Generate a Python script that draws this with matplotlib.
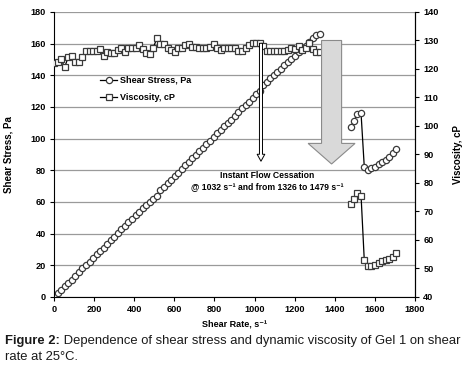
import numpy as np
import matplotlib
matplotlib.use('Agg')
import matplotlib.pyplot as plt
from matplotlib.patches import Polygon
from matplotlib.lines import Line2D

plt.rcParams['font.family'] = ['Liberation Sans', 'DejaVu Sans']

# shear rate, s-1 (first run, up to the cessation at 1326)
rate1 = [0, 18, 35, 53, 71, 88, 106, 124, 141, 159, 177, 194, 212, 230, 247, 265,
         283, 300, 318, 336, 354, 371, 389, 407, 424, 442, 460, 477, 495, 513, 530,
         548, 566, 583, 601, 619, 636, 654, 672, 689, 707, 725, 742, 760, 778, 796,
         813, 831, 849, 866, 884, 902, 919, 937, 955, 972, 990, 1008, 1025, 1043,
         1061, 1078, 1096, 1114, 1131, 1149, 1167, 1184, 1202, 1220, 1237, 1255,
         1273, 1290, 1308, 1326]
stress1 = [0.5, 2.3, 4.6, 6.7, 9.0, 11.0, 13.5, 15.7, 18.2, 20.2, 22.3, 24.6, 27.0,
           29.2, 31.2, 33.7, 36.0, 38.1, 40.2, 42.7, 45.0, 47.3, 49.4, 51.5, 53.8,
           56.3, 58.4, 60.2, 62.0, 63.5, 67.8, 69.6, 71.9, 74.2, 76.3, 78.4, 80.8,
           83.1, 85.5, 87.5, 89.6, 92.1, 94.4, 96.5, 98.6, 101.1, 103.3, 105.7, 107.8,
           110.0, 112.1, 114.6, 116.7, 119.2, 121.3, 123.4, 125.9, 128.0, 130.2, 134.0,
           136.0, 138.2, 140.2, 142.4, 144.3, 146.5, 148.4, 150.6, 152.5, 154.8, 156.6,
           158.8, 161.0, 163.5, 165.6, 165.8]
visc1 = [122.0, 122.6, 123.5, 120.6, 124.2, 124.6, 122.4, 122.4, 124.2, 126.3, 126.3,
         126.3, 126.3, 127.0, 124.6, 126.0, 125.6, 125.6, 126.7, 127.4, 126.0, 127.4,
         127.4, 127.4, 128.4, 127.0, 125.6, 125.4, 127.5, 130.8, 128.8, 128.8, 127.4,
         126.7, 126.0, 127.4, 127.4, 128.4, 128.8, 127.7, 127.7, 127.4, 127.4, 127.4,
         127.7, 128.8, 127.4, 126.5, 127.4, 127.4, 127.4, 127.4, 126.3, 126.3, 127.5,
         128.5, 129.0, 129.0, 129.0, 128.0, 126.3, 126.3, 126.3, 126.3, 126.3, 126.3,
         126.8, 127.5, 127.0, 128.0, 126.5, 127.5, 129.0, 127.0, 126.0, 126.0]

# second run after the flow cessation (1479 s-1 onward)
rate2 = [1479, 1496, 1513, 1531, 1547, 1565, 1582, 1600, 1618, 1636, 1654, 1672, 1690, 1703]
stress2 = [107.5, 111.4, 115.6, 116.0, 82.3, 80.5, 81.3, 82.3, 83.8, 85.2, 86.8, 88.6, 90.8, 93.5]
visc2 = [72.6, 74.3, 76.4, 75.6, 53.0, 50.9, 50.9, 51.2, 51.8, 52.5, 53.0, 53.5, 54.0, 55.3]

left_ticks = [0, 20, 40, 60, 80, 100, 120, 140, 160, 180]
right_ticks = [40, 50, 60, 70, 80, 90, 100, 110, 120, 130, 140]
x_ticks = [0, 200, 400, 600, 800, 1000, 1200, 1400, 1600, 1800]

fig = plt.figure(figsize=(4.64, 3.70), dpi=100)
ax = fig.add_axes([0.1164, 0.1973, 0.778, 0.7703])
ax2 = ax.twinx()

mk = dict(mfc='white', mec='#3a3a3a', mew=0.9, color='black', lw=0.9)
ax.plot(rate1, stress1, marker='o', ms=4.5, **mk)
ax.plot(rate2, stress2, marker='o', ms=4.5, **mk)
ax2.plot(rate1, visc1, marker='s', ms=4.2, **mk)
ax2.plot(rate2, visc2, marker='s', ms=4.2, **mk)

ax.set_xlim(0, 1800)
ax.set_ylim(0, 180)
ax2.set_ylim(40, 140)
ax.set_xticks(x_ticks)
ax.set_yticks(left_ticks)
ax2.set_yticks(right_ticks)
ax.yaxis.grid(True, color='#9a9a9a', lw=0.9)
ax.set_axisbelow(True)

for a in (ax, ax2):
    a.spines['top'].set_visible(False)
    a.tick_params(labelsize=6.6, length=3, width=0.8, pad=3)
    for lab in a.get_xticklabels() + a.get_yticklabels():
        lab.set_fontweight('bold')
ax2.spines['left'].set_visible(False)
ax2.spines['bottom'].set_visible(False)

ax.set_xlabel('Shear Rate, s⁻¹', fontsize=6.5, fontweight='bold', labelpad=4)
ax.set_ylabel('Shear Stress, Pa', fontsize=7, fontweight='bold', labelpad=12)
ax2.set_ylabel('Viscosity, cP', fontsize=7, fontweight='bold', labelpad=10)

# thin hollow arrow at 1032
ax2.annotate('', xy=(1032, 84), xytext=(1032, 162), xycoords=ax.transData,
             textcoords=ax.transData,
             arrowprops=dict(arrowstyle='simple,head_width=0.55,head_length=0.5,tail_width=0.22',
                             fc='white', ec='black', lw=0.7), zorder=6)

# big grey block arrow over the 1326-1479 gap
big = Polygon([(1334, 162), (1434, 162), (1434, 97), (1501, 97), (1384, 84),
               (1267, 97), (1334, 97)], closed=True, transform=ax.transData,
              fc='#d9d9d9', ec='#8a8a8a', lw=0.8, zorder=6)
ax2.add_patch(big)

ax2.text(1062, 77, 'Instant Flow Cessation', transform=ax.transData, ha='center',
         va='center', fontsize=6.2, fontweight='bold', zorder=7)
ax2.text(1062, 70, '@ 1032 s⁻¹ and from 1326 to 1479 s⁻¹', transform=ax.transData,
         ha='center', va='center', fontsize=6.2, fontweight='bold', zorder=7)

h1 = Line2D([], [], marker='o', ms=4.5, **mk)
h2 = Line2D([], [], marker='s', ms=4.2, **mk)
leg = ax2.legend([h1, h2], ['Shear Stress, Pa', 'Viscosity, cP'], loc='upper left',
                 bbox_to_anchor=(0.105, 0.805), frameon=False, fontsize=6.5,
                 handlelength=1.9, handletextpad=0.3, labelspacing=0.9)
for t in leg.get_texts():
    t.set_fontweight('bold')

# caption with a bold prefix
renderer = fig.canvas.get_renderer()
cx, cy = 5 / 464, 1 - 341 / 370
t1 = fig.text(cx, cy, 'Figure 2:', fontsize=9.4, fontweight='bold', va='center', color='#1a1a1a')
w = t1.get_window_extent(renderer).width / fig.bbox.width
fig.text(cx + w, cy, ' Dependence of shear stress and dynamic viscosity of Gel 1 on shear',
         fontsize=9.4, va='center', color='#1a1a1a')
fig.text(cx, 1 - 357 / 370, 'rate at 25°C.', fontsize=9.4, va='center', color='#1a1a1a')

fig.savefig('out.png', dpi=100)
